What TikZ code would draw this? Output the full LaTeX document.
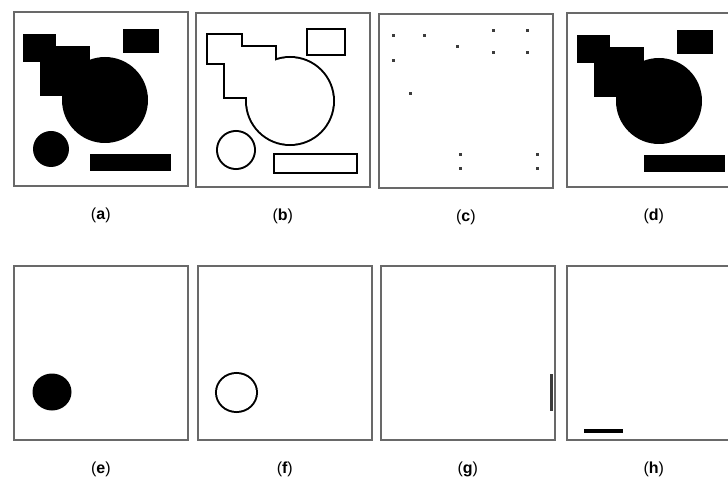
\documentclass[tikz,border=0pt]{standalone}
\usepackage{fontspec}
\setmainfont{Liberation Sans}
\usetikzlibrary{positioning, calc}
\definecolor{framegray}{RGB}{105, 105, 105}
\definecolor{dotgray}{RGB}{60, 60, 60}
\tikzset{
  panel/.style={draw=framegray, line width=1.6pt, minimum size=174pt, inner sep=0pt, anchor=north west},
  caption/.style={font=\fontsize{16}{18}\selectfont, inner sep=0pt},
  blob/.style={fill=black},
  rim/.style={draw=black, line width=4pt},
  hollow/.style={fill=white},
  cornerdot/.style={fill=dotgray},
}
% the five objects of the test image, in panel coordinates
\newcommand{\bigobj}[1]{%
  \path[#1] (10,23) rectangle (43,51);
  \path[#1] (27,35) rectangle (77,85);
  \path[#1] (92,89) circle[radius=43];
}
\newcommand{\restobj}[1]{%
  \path[#1] (110,18) rectangle (146,42);
  \path[#1] (77,143) rectangle (158,160);
}

\begin{document}
\begin{tikzpicture}[x=1pt, y=-1pt, node distance=21pt]
  \useasboundingbox (0,0) rectangle (728,486);

  \node[panel] (pa) at (13,11) {};
  \node[panel] (pb) at (195,12) {};
  \node[panel] (pc) at (378,13) {};
  \node[panel] (pd) at (566,12) {};
  \node[panel] (pe) at (13,265) {};
  \node[panel] (pf) at (197,265) {};
  \node[panel] (pg) at (380,265) {};
  \node[panel] (ph) at (566,265) {};

  % (a) original
  \begin{scope}[shift={(pa.north west)}]
    \bigobj{blob}
    \restobj{blob}
    \path[blob] (38,138) circle[radius=18];
  \end{scope}

  % (b) boundaries
  \begin{scope}[shift={($(pb.north west)+(3,0)$)}]
    \bigobj{rim}
    \restobj{rim}
    \path[rim] (38,138) circle[radius=18];
    \bigobj{hollow}
    \restobj{hollow}
    \path[hollow] (38,138) circle[radius=18];
  \end{scope}

  % (c) corner points
  \begin{scope}[shift={(pc.north west)}]
    \foreach \cx/\cy in {15/23, 46/23, 15/48, 79/34, 115/18, 149/18, 115/40,
                         149/40, 32/81, 82/142, 159/142, 82/156, 159/156}
      \path[cornerdot] (\cx-1.5,\cy-1.5) rectangle (\cx+1.5,\cy+1.5);
  \end{scope}

  % (d) without the small disc
  \begin{scope}[shift={($(pd.north west)+(1,0)$)}]
    \bigobj{blob}
    \restobj{blob}
  \end{scope}

  % (e)-(h) single objects
  \path[blob] ($(pe.north west)+(39,127)$) ellipse[x radius=19.5, y radius=18.5];
  \path[rim] ($(pf.north west)+(39.5,127.5)$) ellipse[x radius=19.5, y radius=18.5];
  \path[hollow] ($(pf.north west)+(39.5,127.5)$) ellipse[x radius=19.5, y radius=18.5];
  \draw[dotgray, line width=3pt] ($(pg.north west)+(171,109)$) -- ($(pg.north west)+(171,146)$);
  \draw[black, line width=3.5pt] ($(ph.north west)+(18,166)$) -- ($(ph.north west)+(57,166)$);

  \node[caption, below=of pa] (la) {(\textbf{a})};
  \node[caption, below=of pb] (lb) {(\textbf{b})};
  \node[caption, below=of pc] (lc) {(\textbf{c})};
  \node[caption, below=of pd] (ld) {(\textbf{d})};
  \node[caption, below=of pe] (le) {(\textbf{e})};
  \node[caption, below=of pf] (lf) {(\textbf{f})};
  \node[caption, below=of pg] (lg) {(\textbf{g})};
  \node[caption, below=of ph] (lh) {(\textbf{h})};
\end{tikzpicture}
\end{document}
